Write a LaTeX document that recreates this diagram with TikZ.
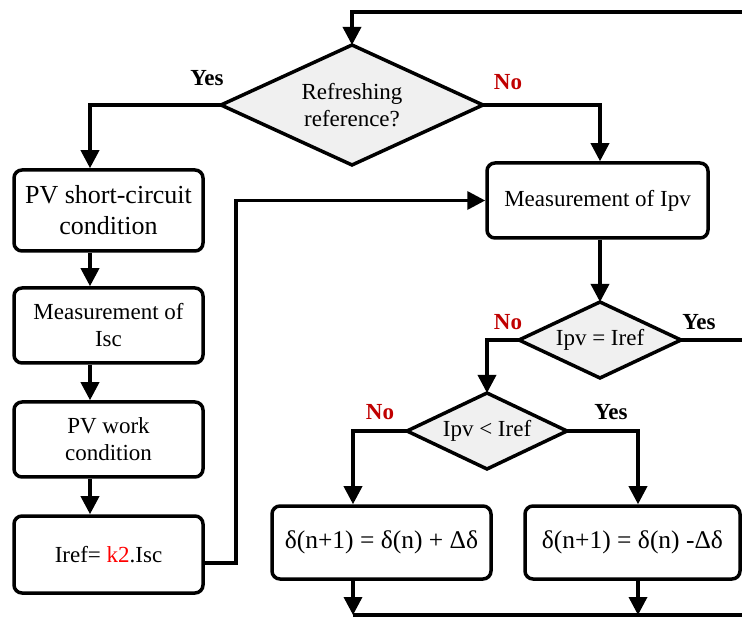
\documentclass[tikz,border=0pt]{standalone}
\usepackage{fontspec}
\setmainfont{Liberation Serif}
\usetikzlibrary{arrows.meta,shapes.geometric}

\definecolor{diafill}{HTML}{F0F0F0}
\definecolor{nored}{HTML}{C00000}
\definecolor{kred}{HTML}{FF0000}

\tikzset{
  base/.style={line width=3.5pt, draw=black},
  procbox/.style={base, rectangle, rounded corners=8pt, fill=white, align=center,
                  inner sep=0pt, font=\fontsize{23}{27}\selectfont},
  decision/.style={base, diamond, fill=diafill, inner sep=0pt, outer sep=0pt,
                   aspect=2.15, align=center, font=\fontsize{23}{27}\selectfont},
  flow/.style={line width=3.5pt, -{Triangle[length=18pt,width=18pt]}},
  plain/.style={line width=3.5pt},
  yeslbl/.style={font=\bfseries\fontsize{23}{26}\selectfont, text=black},
  nolbl/.style={font=\bfseries\fontsize{23}{26}\selectfont, text=nored},
}

\begin{document}
\begin{tikzpicture}[x=1pt, y=-1pt]
\path[use as bounding box] (0,0) rectangle (742,617);

% decisions
\node[decision, minimum width=262pt, minimum height=120pt] (d1) at (352,105)
  {Refreshing\\reference?};
\node[decision, minimum width=162pt, minimum height=76pt] (d2) at (600,340)
  {Ipv = Iref};
\node[decision, minimum width=160pt, minimum height=76pt] (d3) at (487,431)
  {Ipv {\textless} Iref};

% left column
\node[procbox, minimum width=189pt, minimum height=81pt, font=\fontsize{26}{31}\selectfont]
  (b1) at (108.5,210.5) {PV short-circuit\\condition};
\node[procbox, minimum width=189pt, minimum height=75pt] (b2) at (108.5,325.5)
  {Measurement of\\Isc};
\node[procbox, minimum width=189pt, minimum height=75pt] (b3) at (108.5,439.5)
  {PV work\\condition};
\node[procbox, minimum width=189pt, minimum height=77pt] (b4) at (108.5,554.5)
  {Iref= \textcolor{kred}{k2}.Isc};

% right column
\node[procbox, minimum width=221pt, minimum height=75pt] (mipv) at (597.5,200.5)
  {Measurement of Ipv};
\node[procbox, minimum width=219pt, minimum height=73pt, font=\fontsize{25.5}{30}\selectfont]
  (b5) at (381.5,542.5) {δ(n+1) = δ(n) + Δδ};
\node[procbox, minimum width=215pt, minimum height=73pt, font=\fontsize{25.5}{30}\selectfont]
  (b6) at (632.5,542.5) {δ(n+1) = δ(n) -Δδ};

% routing guides
\coordinate (lx) at (90,0);
\coordinate (rx) at (600,0);
\coordinate (nx) at (353,0);
\coordinate (yx) at (638,0);
\coordinate (topl) at (352,12);
\coordinate (topr) at (742,12);
\coordinate (eqr) at (742,340);
\coordinate (botl) at (353,615);
\coordinate (botm) at (638,615);
\coordinate (botr) at (742,615);
\coordinate (riser) at (236,0);

% connectors
\draw[flow] (topr) -- (topl) -- (d1.north);
\draw[flow] (d1.west) -| (b1.north -| lx);
\draw[flow] (d1.east) -| (mipv.north -| rx);
\draw[flow] (b1.south -| lx) -- (b2.north -| lx);
\draw[flow] (b2.south -| lx) -- (b3.north -| lx);
\draw[flow] (b3.south -| lx) -- (b4.north -| lx);
\draw[flow] ([yshift=-8.5pt]b4.east) -| (riser |- mipv.west) -- (mipv.west);
\draw[flow] (mipv.south -| rx) -- (d2.north);
\draw[plain] (d2.east) -- (eqr);
\draw[flow] (d2.west) -| (d3.north);
\draw[flow] (d3.west) -| (b5.north -| nx);
\draw[flow] (d3.east) -| (b6.north -| yx);
\draw[flow] (b5.south -| nx) -- (botl);
\draw[flow] (b6.south -| yx) -- (botm);
\draw[plain] (botl) -- (botr);

% branch labels
\node[yeslbl] (y1) at (207,78) {Yes};
\node[nolbl] (n1) at (508,82) {No};
\node[nolbl] (n2) at (508,322) {No};
\node[yeslbl] (y2) at (699,322) {Yes};
\node[nolbl] (n3) at (380,412) {No};
\node[yeslbl] (y3) at (611,412) {Yes};
\end{tikzpicture}
\end{document}
